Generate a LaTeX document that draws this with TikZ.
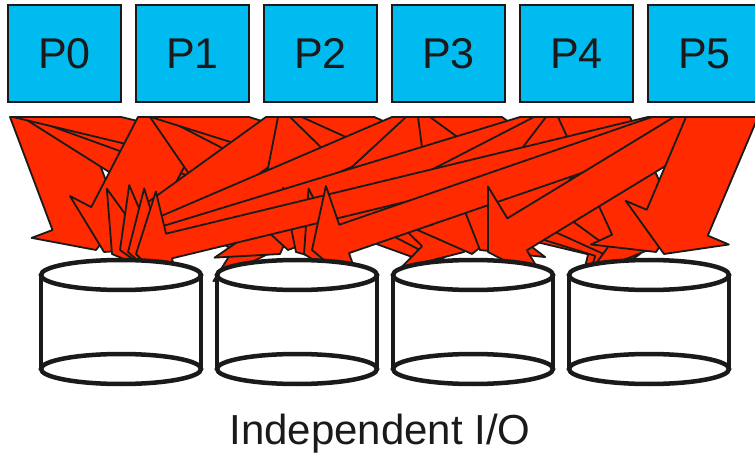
\documentclass[tikz,border=0pt]{standalone}
\usepackage{fontspec}
\setmainfont{Liberation Sans}
\definecolor{pcyan}{RGB}{0,187,240}
\definecolor{ared}{RGB}{255,42,0}
\definecolor{ink}{RGB}{26,26,26}
\def\Atop{117}
\def\AHL{34}
\def\AHH{56}
% block arrow from the box whose left edge is #1 (wished start centre #2) to tip (#3,#4);
% shaft cut level at y=\Atop, head square to the shaft
\newcommand{\fatarrow}[4]{%
  \pgfmathsetmacro\Adx{(#3)-(#2)}%
  \pgfmathsetmacro\Ady{(#4)-\Atop}%
  \pgfmathsetmacro\Alen{veclen(\Adx,\Ady)}%
  \pgfmathsetmacro\AHW{min(54,max(36,15*\Alen/\Ady))}%
  \pgfmathsetmacro\Asx{min(max(#2,(#1)+\AHW),(#1)+113-\AHW)}%
  \pgfmathsetmacro\Adx{(#3)-\Asx}%
  \pgfmathsetmacro\Alen{veclen(\Adx,\Ady)}%
  \pgfmathsetmacro\Aux{\Adx/\Alen}%
  \pgfmathsetmacro\Auy{\Ady/\Alen}%
  \pgfmathsetmacro\Anx{-(\Auy)}%
  \pgfmathsetmacro\Any{\Aux}%
  \pgfmathsetmacro\Abx{(#3)-\AHL*(\Aux)}%
  \pgfmathsetmacro\Aby{(#4)-\AHL*(\Auy)}%
  \pgfmathsetmacro\Atl{(\Abx-\Asx+\AHW)*(\Aux)+(\Aby-\Atop)*(\Auy)}%
  \pgfmathsetmacro\Atr{(\Abx-\Asx-\AHW)*(\Aux)+(\Aby-\Atop)*(\Auy)}%
  \pgfmathsetmacro\ABLx{\Asx-\AHW+(\Atl)*(\Aux)}%
  \pgfmathsetmacro\ABLy{\Atop+(\Atl)*(\Auy)}%
  \pgfmathsetmacro\ABRx{\Asx+\AHW+(\Atr)*(\Aux)}%
  \pgfmathsetmacro\ABRy{\Atop+(\Atr)*(\Auy)}%
  \pgfmathsetmacro\AWLx{\Abx+\AHH*(\Anx)}%
  \pgfmathsetmacro\AWLy{\Aby+\AHH*(\Any)}%
  \pgfmathsetmacro\AWRx{\Abx-\AHH*(\Anx)}%
  \pgfmathsetmacro\AWRy{\Aby-\AHH*(\Any)}%
  \pgfmathsetmacro\ATLx{\Asx-\AHW}%
  \pgfmathsetmacro\ATRx{\Asx+\AHW}%
  \draw[fatarrowstyle] (\ATLx,\Atop) -- (\ATRx,\Atop) -- (\ABRx,\ABRy)
     -- (\AWRx,\AWRy) -- (#3,#4) -- (\AWLx,\AWLy) -- (\ABLx,\ABLy) -- cycle;
}
\tikzset{
  pbox/.style={draw=ink, line width=1.5pt, fill=pcyan, minimum width=113pt,
    minimum height=97pt, inner sep=0pt, font=\fontsize{43}{43}\selectfont, text=ink},
  fatarrowstyle/.style={draw=ink, line width=1.8pt, fill=ared, line join=round},
  diskline/.style={draw=ink, line width=4.5pt},
  caption/.style={font=\fontsize{42}{42}\selectfont, text=ink, inner sep=0pt}
}
\begin{document}
\begin{tikzpicture}[x=1pt,y=-1pt]
\useasboundingbox (0,0) rectangle (755,454);
\clip (0,0) rectangle (755,454);
% process boxes
\foreach \i in {0,...,5}{
  \node[pbox] (p\i) at ({64.5+128*\i},53.5) {P\i};
}
% arrows from every process to every disk
\foreach \i in {0,...,5}{
  \foreach \j in {0,...,3}{
    \pgfmathsetmacro\bl{8+128*\i}
    \pgfmathsetmacro\sx{\bl+38+12*\j}
    \pgfmathsetmacro\tx{121+176*\j-5+(\i-2.5)*8}
    \pgfmathsetmacro\ty{250+mod(\i+\j,3)*2}
    \fatarrow{\bl}{\sx}{\tx}{\ty}
  }
}
% disks
\foreach \j in {0,...,3}{
  \pgfmathsetmacro\cx{121+176*\j}
  \coordinate (d\j) at (\cx,322);
  \fill[white] (\cx-80,275) rectangle (\cx+80,369);
  \draw[diskline, fill=white] (\cx,369) ellipse [x radius=80, y radius=15];
  \draw[diskline] (\cx-80,275) -- (\cx-80,369);
  \draw[diskline] (\cx+80,275) -- (\cx+80,369);
  \draw[diskline, fill=white] (\cx,275) ellipse [x radius=80, y radius=15];
}
\node[caption, anchor=base] (cap) at (380,444) {Independent I/O};
\end{tikzpicture}
\end{document}
